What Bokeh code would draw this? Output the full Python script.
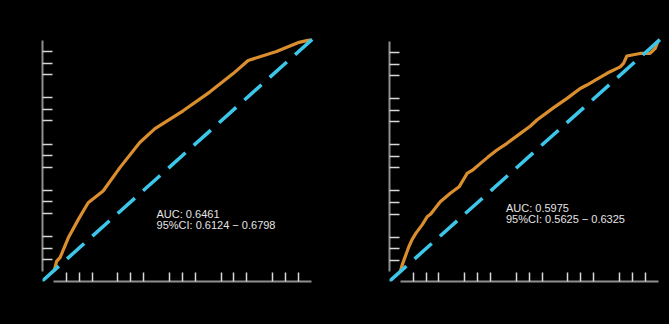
from bokeh.plotting import figure
from bokeh.layouts import row
from bokeh.models import Range1d, FixedTicker, Slope, Label
from bokeh.embed import file_html
from bokeh.resources import INLINE

# ROC curve 1 (false positive rate, true positive rate)
fpr_1 = [0, 0.004, 0.013, 0.026, 0.058, 0.097, 0.135, 0.193, 0.258, 0.335, 0.394,
         0.503, 0.606, 0.697, 0.755, 0.865, 0.948, 0.987, 1]
tpr_1 = [0, 0.004, 0.043, 0.058, 0.144, 0.224, 0.296, 0.347, 0.448, 0.557, 0.617,
         0.694, 0.775, 0.855, 0.912, 0.951, 0.989, 0.999, 1]
label_1 = ["AUC: 0.6461", "95%CI: 0.6124 \u2212 0.6798"]

# ROC curve 2
fpr_2 = [0, 0.007, 0.028, 0.033, 0.046, 0.06, 0.086, 0.104, 0.118, 0.155, 0.194,
         0.228, 0.259, 0.28, 0.311, 0.34, 0.375, 0.414, 0.466, 0.505, 0.53, 0.595,
         0.647, 0.698, 0.724, 0.76, 0.802, 0.853, 0.866, 0.879, 0.93, 0.969, 0.989, 1]
tpr_2 = [0, 0.028, 0.093, 0.108, 0.14, 0.166, 0.205, 0.238, 0.25, 0.303, 0.34,
         0.368, 0.426, 0.44, 0.47, 0.497, 0.528, 0.557, 0.6, 0.632, 0.658, 0.712,
         0.752, 0.795, 0.81, 0.833, 0.861, 0.889, 0.904, 0.936, 0.947, 0.947, 0.969, 1]
label_2 = ["AUC: 0.5975", "95%CI: 0.5625 \u2212 0.6325"]

minor_ticks = [0.05, 0.1, 0.15, 0.25, 0.3, 0.35, 0.45, 0.5, 0.55,
               0.65, 0.7, 0.75, 0.85, 0.9, 0.95]

ORANGE = "#DB8E2E"
CYAN = "#3CC6EA"
AXIS = "#8f8f8f"
TICK = "#d8d8d8"
TEXT = "#e4e4e4"


def make_panel(fpr, tpr, labels, width, bl, br, bt, bb, xr, yr, lx, ly):
    p = figure(width=width, height=324, output_backend="svg", toolbar_location=None,
               x_range=Range1d(*xr), y_range=Range1d(*yr),
               min_border_left=bl, min_border_right=br,
               min_border_top=bt, min_border_bottom=bb)
    p.background_fill_color = "black"
    p.border_fill_color = "black"
    p.outline_line_color = None
    p.grid.visible = False
    for ax in (p.xaxis[0], p.yaxis[0]):
        ax.ticker = FixedTicker(ticks=[], minor_ticks=minor_ticks)
        ax.bounds = (0, 1)
        ax.axis_line_color = AXIS
        ax.axis_line_width = 2
        ax.major_tick_line_color = None
        ax.minor_tick_line_color = TICK
        ax.minor_tick_line_width = 1.5
        ax.minor_tick_out = 0
        ax.major_label_text_font_size = "0px"
    p.xaxis.minor_tick_in = 9
    p.yaxis.minor_tick_in = 10

    p.line(fpr, tpr, line_color=ORANGE, line_width=3.2, line_join="round")
    p.add_layout(Slope(gradient=1, y_intercept=0, line_color=CYAN, line_width=3.5,
                       line_dash="23 11"))
    for i, t in enumerate(labels):
        p.add_layout(Label(x=lx, y=ly[i], text=t, text_color=TEXT,
                           text_font="Liberation Sans", text_font_size="11px",
                           text_baseline="alphabetic", text_align="left"))
    return p


p1 = make_panel(fpr_1, tpr_1, label_1, 335, 42, 19, 35, 43,
                (-0.042, 1.02), (-0.045, 1.02), 0.40, [0.249, 0.201])
p2 = make_panel(fpr_2, tpr_2, label_2, 334, 54, 5, 35, 43,
                (-0.042, 1.025), (-0.043, 1.025), 0.41, [0.278, 0.23])

layout = row(p1, p2)
layout.styles = {"background-color": "black"}

html = file_html(layout, INLINE).replace("</head>", "<style>html,body{background:#000000;}</style></head>")
open("out.html", "w").write(html)
